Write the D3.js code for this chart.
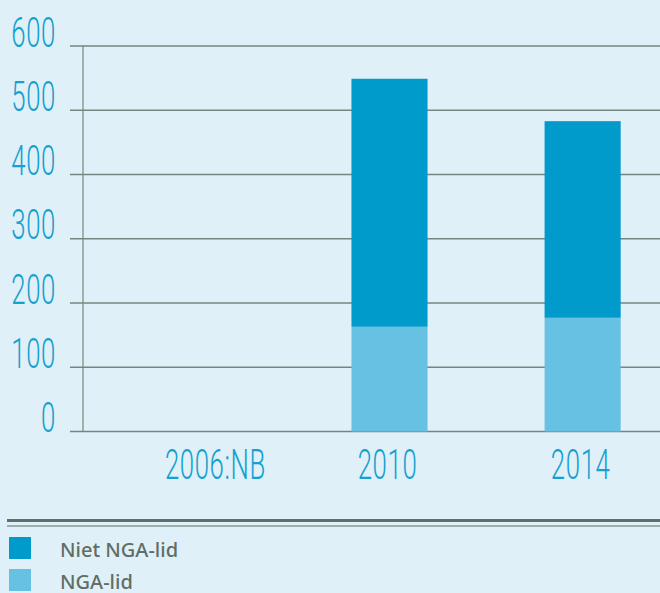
<!DOCTYPE html>
<html>
<head>
<meta charset="utf-8">
<script src="https://cdn.jsdelivr.net/npm/d3@7"></script>
<style>
  html, body { margin: 0; padding: 0; background: #dff0f8; }
  svg { display: block; }
</style>
</head>
<body>
<svg id="chart"></svg>
<script>
/* ---------- data ---------- */

var categories = ["2006:NB", "2010", "2014"];
var ngaLid = [0, 163, 177];
var nietNgaLid = [0, 386, 306];
var seriesNames = ["Niet NGA-lid", "NGA-lid"];
var yTicks = [0, 100, 200, 300, 400, 500, 600];

/* ---------- size and colours ---------- */

var WIDTH = 660,
    HEIGHT = 593;

var bgColor = "#dff0f8",
    darkBlue = "#009bca",
    lightBlue = "#67c1e3",
    gridColor = "#76867f",
    tickColor = "#14a0d0",
    legendText = "#5f6e66";

var svg = d3.select("#chart")
    .attr("width", WIDTH)
    .attr("height", HEIGHT);

svg.append("rect")
    .attr("width", WIDTH)
    .attr("height", HEIGHT)
    .attr("fill", bgColor);

/* ---------- scales ---------- */

var y = d3.scaleLinear()
    .domain([0, 600])
    .range([431.5, 46]);

var x = d3.scaleBand()
    .domain(categories)
    .range([83, 696])
    .paddingInner(0.606)
    .paddingOuter(0.39);

/* ---------- grid ---------- */

svg.append("g")
    .selectAll("line")
    .data(yTicks)
    .enter().append("line")
    .attr("x1", 70)
    .attr("x2", WIDTH)
    .attr("y1", function(d) { return y(d); })
    .attr("y2", function(d) { return y(d); })
    .attr("stroke", gridColor)
    .attr("stroke-width", 1.5);

svg.append("line")
    .attr("x1", 83).attr("x2", 83)
    .attr("y1", y(600)).attr("y2", y(0))
    .attr("stroke", gridColor)
    .attr("stroke-width", 1.2);

/* ---------- tick labels ---------- */

var condensed = "scale(0.6,1)";

svg.append("g")
    .selectAll("text")
    .data(yTicks)
    .enter().append("text")
    .attr("transform", function(d) { return "translate(56," + (y(d) + 0.5) + ") " + condensed; })
    .attr("text-anchor", "end")
    .attr("font-family", "Roboto")
    .attr("font-weight", 300)
    .attr("font-size", 43)
    .attr("letter-spacing", 1)
    .attr("fill", tickColor)
    .text(function(d) { return d; });

// the first label sits a bit right of its band centre in the original
svg.append("g")
    .selectAll("text")
    .data(categories)
    .enter().append("text")
    .attr("transform", function(d, i) {
        var cx = x(d) + x.bandwidth() / 2 + (i === 0 ? 19 : -2);
        return "translate(" + cx + ",479) " + condensed;
    })
    .attr("text-anchor", "middle")
    .attr("font-family", "Roboto")
    .attr("font-weight", 300)
    .attr("font-size", 43)
    .attr("letter-spacing", 1)
    .attr("fill", tickColor)
    .text(function(d) { return d; });

/* ---------- stacked bars ---------- */

var rows = categories.map(function(c, i) {
    return {cat: c, "NGA-lid": ngaLid[i], "Niet NGA-lid": nietNgaLid[i]};
});

var stack = d3.stack().keys(["NGA-lid", "Niet NGA-lid"]);
var colors = {"NGA-lid": lightBlue, "Niet NGA-lid": darkBlue};

svg.append("g")
    .selectAll("g")
    .data(stack(rows))
    .enter().append("g")
    .attr("fill", function(s) { return colors[s.key]; })
    .selectAll("rect")
    .data(function(s) { return s; })
    .enter().append("rect")
    .attr("x", function(d) { return x(d.data.cat); })
    .attr("width", x.bandwidth())
    .attr("y", function(d) { return y(d[1]); })
    .attr("height", function(d) { return y(d[0]) - y(d[1]); });

/* ---------- legend ---------- */

svg.append("line")
    .attr("x1", 7).attr("x2", WIDTH)
    .attr("y1", 520.5).attr("y2", 520.5)
    .attr("stroke", "#5f6e66")
    .attr("stroke-width", 3);

svg.append("line")
    .attr("x1", 7).attr("x2", WIDTH)
    .attr("y1", 526).attr("y2", 526)
    .attr("stroke", "#5f6e66")
    .attr("stroke-width", 1);

var legend = svg.append("g")
    .selectAll("g")
    .data(seriesNames)
    .enter().append("g")
    .attr("transform", function(d, i) { return "translate(9," + (537 + i * 32) + ")"; });

legend.append("rect")
    .attr("width", 22)
    .attr("height", 22)
    .attr("fill", function(d) { return colors[d]; });

legend.append("text")
    .attr("x", 51)
    .attr("y", 20)
    .attr("font-family", "Noto Sans")
    .attr("font-weight", 500)
    .attr("font-size", 20)
    .attr("fill", legendText)
    .text(function(d) { return d; });
</script>
</body>
</html>
